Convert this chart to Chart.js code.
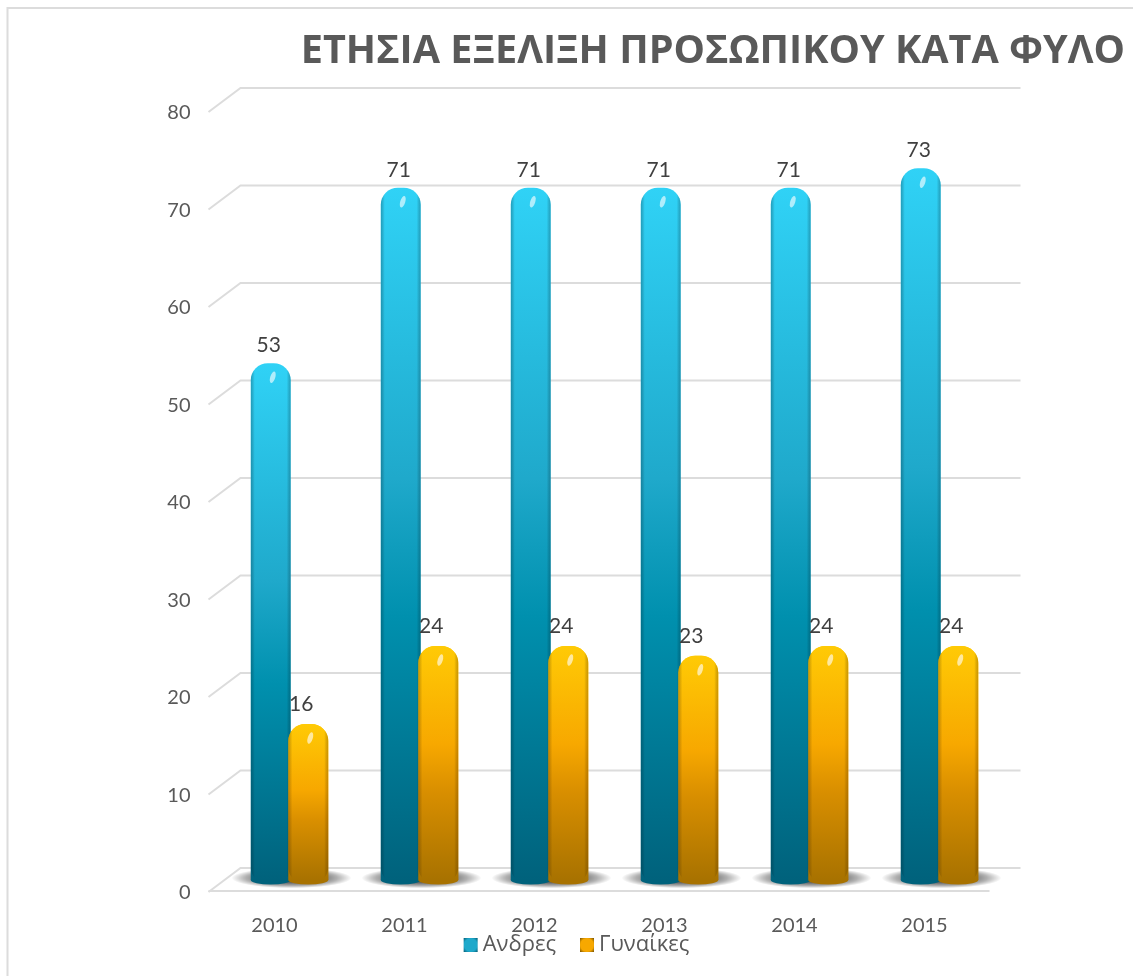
<!DOCTYPE html>
<html lang="el"><head><meta charset="utf-8">
<style>html,body{margin:0;padding:0;background:#fff}#w{position:relative;width:1133px;height:976px}canvas{display:block}</style>
<script src="https://cdn.jsdelivr.net/npm/chart.js@4"></script>
</head><body><div id="w"><canvas id="c" width="1133" height="976"></canvas></div>
<script>
const years = ['2010','2011','2012','2013','2014','2015'];
const andres = [53,71,71,71,71,73];
const gynaikes = [16,24,24,23,24,24];
const seriesNames = ['Ανδρες','Γυναίκες'];
const chartTitle = 'ΕΤΗΣΙΑ ΕΞΕΛΙΞΗ ΠΡΟΣΩΠΙΚΟΥ ΚΑΤΑ ΦΥΛΟ';
const blueStops = ['#30d2f6','#1fa9cb','#0090ae','#00627c'];
const orangeStops = ['#ffca05','#f7a800','#d98f00','#a87200'];
const textGray = '#595959', gridGray = '#dcdcdc';
const tickFont = {family:'Lato', size:20};

function fade(ctx, stops, y0, y1){
  const g = ctx.createLinearGradient(0,y0,0,y1);
  g.addColorStop(0,stops[0]); g.addColorStop(.42,stops[1]); g.addColorStop(.62,stops[2]); g.addColorStop(1,stops[3]);
  return g;
}
function barFill(stops){
  return c=>{
    const s=c.chart.scales&&c.chart.scales.y;
    if(!s||c.raw===undefined) return stops[1];
    return fade(c.chart.ctx,stops,s.getPixelForValue(c.raw),s.getPixelForValue(0));
  };
}
function roundPath(ctx,b,r){
  ctx.beginPath();
  ctx.roundRect(b.x-b.width/2,b.y,b.width,b.base-b.y+4,[r,r,r,r]);
}
const decor = {
  id:'decor',
  afterLayout(chart){
    // the year labels and the legend overlap vertically in the reference
    const lg=chart.legend, pad=lg.options.labels.padding, h=lg.bottom-lg.top;
    lg.top=945-11-pad; lg.bottom=lg.top+h;
    chart.scales.x.bottom=chart.height;
  },
  beforeDatasetsDraw(chart){
    const ctx=chart.ctx,{left,right}=chart.chartArea,y=chart.scales.y;
    ctx.save();
    // frame (left and top only)
    ctx.strokeStyle=gridGray; ctx.lineWidth=2;
    ctx.beginPath(); ctx.moveTo(7.5,chart.height); ctx.lineTo(7.5,8); ctx.lineTo(chart.width,8); ctx.stroke();
    // back wall and side wall
    y.ticks.forEach(t=>{
      const p=y.getPixelForValue(t.value);
      ctx.beginPath();
      ctx.moveTo(left-16,p+12); ctx.lineTo(left+16,p-12); ctx.lineTo(right+16,p-12);
      ctx.stroke();
    });
    // floor front edge
    const p0=y.getPixelForValue(0);
    ctx.beginPath(); ctx.moveTo(left-16,p0+11); ctx.lineTo(right-15,p0+11); ctx.stroke();
    // floor shadows
    const m0=chart.getDatasetMeta(0).data,m1=chart.getDatasetMeta(1).data;
    m0.forEach((b,i)=>{
      const cx=(b.x+m1[i].x)/2+2;
      ctx.save();
      ctx.translate(cx,p0-2); ctx.scale(1,.17);
      const g=ctx.createRadialGradient(0,0,20,0,0,60);
      g.addColorStop(0,'rgba(0,0,0,.7)'); g.addColorStop(.65,'rgba(0,0,0,.3)'); g.addColorStop(1,'rgba(0,0,0,0)');
      ctx.fillStyle=g; ctx.beginPath(); ctx.arc(0,0,60,0,Math.PI*2); ctx.fill();
      ctx.restore();
    });
    // rounded feet of the bars
    [[0,blueStops],[1,orangeStops]].forEach(([d,st])=>{
      chart.getDatasetMeta(d).data.forEach(b=>{
        ctx.fillStyle=st[3];
        ctx.beginPath(); ctx.ellipse(b.x,p0,b.width/2,4.5,0,0,Math.PI*2); ctx.fill();
      });
    });
    ctx.restore();
  },
  afterDatasetsDraw(chart){
    const ctx=chart.ctx;
    const shade=(meta,edge)=>{
      meta.data.forEach(b=>{
        ctx.save();
        roundPath(ctx,b,17); ctx.clip();
        const l=b.x-b.width/2,g=ctx.createLinearGradient(l,0,l+b.width,0);
        g.addColorStop(0,edge); g.addColorStop(.1,'rgba(0,0,0,0)');
        g.addColorStop(.9,'rgba(0,0,0,0)'); g.addColorStop(1,edge);
        ctx.fillStyle=g; ctx.fillRect(l,b.y,b.width,b.base-b.y+4);
        ctx.restore();
        // glint
        ctx.save();
        ctx.fillStyle='rgba(255,255,255,.62)';
        ctx.translate(b.x+2,b.y+14); ctx.rotate(.3);
        ctx.beginPath(); ctx.ellipse(0,0,2.5,6,0,0,Math.PI*2); ctx.fill();
        ctx.restore();
      });
    };
    const m0=chart.getDatasetMeta(0),m1=chart.getDatasetMeta(1);
    shade(m0,'rgba(0,40,55,.3)');
    m1.controller.draw();
    shade(m1,'rgba(90,50,0,.3)');
    // value labels
    ctx.save();
    ctx.font='21px Lato'; ctx.fillStyle='#404040'; ctx.textAlign='center'; ctx.textBaseline='middle';
    m0.data.forEach((b,i)=>ctx.fillText(String(andres[i]),b.x-2,b.y-18));
    m1.data.forEach((b,i)=>ctx.fillText(String(gynaikes[i]),b.x-7,b.y-20));
    ctx.restore();
  },
  afterDraw(chart){
    // legend swatches
    const ctx=chart.ctx;
    chart.legend.legendHitBoxes.forEach((h,i)=>{
      const st=i?['#f7a800','#6a4800']:['#1fa9cb','#00566e'];
      const x=h.left,y=h.top+(h.height-14)/2;
      const g=ctx.createRadialGradient(x+7,y+7,1,x+7,y+7,10);
      g.addColorStop(0,st[0]); g.addColorStop(.6,st[0]); g.addColorStop(1,st[1]);
      ctx.fillStyle=g; ctx.fillRect(x,y,14,14);
    });
  }
};
const cfg = {
  type:'bar',
  data:{labels:years,datasets:[
    {label:seriesNames[0],data:andres,backgroundColor:barFill(blueStops),borderSkipped:false,borderRadius:{topLeft:17,topRight:17,bottomLeft:0,bottomRight:0}},
    {label:seriesNames[1],data:gynaikes,backgroundColor:barFill(orangeStops),borderSkipped:false,borderRadius:{topLeft:17,topRight:17,bottomLeft:0,bottomRight:0}}
  ]},
  options:{
    responsive:false,animation:false,
    categoryPercentage:.577,barPercentage:1.067,
    layout:{padding:{left:28,right:8,top:0,bottom:0}},
    scales:{
      x:{offset:true,grid:{display:false},border:{display:false},
        ticks:{color:textGray,font:tickFont,padding:26,labelOffset:-15,maxRotation:0},
        afterFit(s){s.height=96-s.chart.legend.height;}},
      y:{min:0,max:80,grid:{display:false},border:{display:false},
        ticks:{stepSize:10,color:textGray,font:tickFont,padding:26,labelOffset:13},
        afterFit(s){s.width=196.5;}},
      yr:{type:'linear',position:'right',display:true,grid:{display:false},border:{display:false},
        ticks:{display:false},afterFit(s){s.width=120.5;}}
    },
    plugins:{
      tooltip:{enabled:false},
      title:{display:true,text:chartTitle,align:'end',color:textGray,
        font:{family:'"Open Sans"',size:39.6,weight:'bold'},padding:{top:27.5,bottom:25}},
      legend:{display:true,position:'bottom',
        labels:{color:textGray,font:{family:'"Open Sans"',size:22},boxWidth:8,boxHeight:8,padding:24,
          generateLabels(chart){
            return seriesNames.map((t,i)=>({text:t,fillStyle:'transparent',strokeStyle:'transparent',lineWidth:0,fontColor:textGray,datasetIndex:i,hidden:false}));
          }}}
    }
  },
  plugins:[decor]
};
new Chart(document.getElementById('c'),cfg);
</script></body></html>
